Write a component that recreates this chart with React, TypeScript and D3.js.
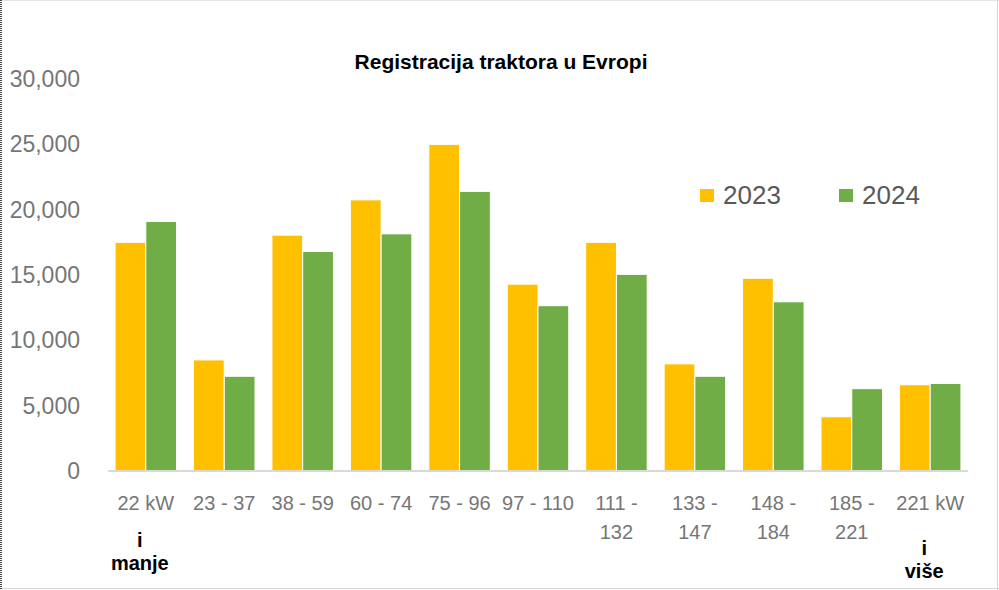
import { useEffect, useRef } from "react";
import * as d3 from "d3";

// Power classes (kW); wrapped labels are split into their lines
const categories = [
  "22 kW",
  "23 - 37",
  "38 - 59",
  "60 - 74",
  "75 - 96",
  "97 - 110",
  "111 - 132",
  "133 - 147",
  "148 - 184",
  "185 - 221",
  "221 kW",
];
const tickLines = [
  ["22 kW"],
  ["23 - 37"],
  ["38 - 59"],
  ["60 - 74"],
  ["75 - 96"],
  ["97 - 110"],
  ["111 -", "132"],
  ["133 -", "147"],
  ["148 -", "184"],
  ["185 -", "221"],
  ["221 kW"],
];
const series = ["2023", "2024"];
const values2023 = [17500, 8500, 18050, 20750, 25000, 14300, 17500, 8200, 14750, 4150, 6600];
const values2024 = [19100, 7250, 16800, 18150, 21400, 12650, 15050, 7250, 12950, 6300, 6700];
const yTicks = [0, 5000, 10000, 15000, 20000, 25000, 30000];
const notes = [
  { category: "22 kW", lines: ["i", "manje"] },
  { category: "221 kW", lines: ["i", "više"] },
];

const colors: Record<string, string> = { "2023": "#FFC000", "2024": "#70AD47" };
const W = 999;
const H = 590;
const FONT = "'Liberation Sans', Arial, sans-serif";

export default function App() {
  const svgRef = useRef<SVGSVGElement>(null);

  useEffect(() => {
    if (!svgRef.current) return;
    const svg = d3.select(svgRef.current);
    svg.selectAll("*").remove();

    const x = d3
      .scaleBand<string>()
      .domain(categories)
      .range([108, 968])
      .paddingInner(0.216)
      .paddingOuter(0.09);
    const x1 = d3.scaleBand<string>().domain(series).range([0, x.bandwidth()]);
    const y = d3.scaleLinear().domain([0, 30000]).range([471, 79]);

    // frame
    svg.append("rect").attr("width", W).attr("height", H).attr("fill", "#fff");
    svg.append("line").attr("x1", 0).attr("x2", W).attr("y1", 0.5).attr("y2", 0.5)
      .attr("stroke", "#e4e4e4");
    svg.append("line").attr("x1", 997.5).attr("x2", 997.5).attr("y1", 0).attr("y2", H)
      .attr("stroke", "#d6d6d6");
    svg.append("line").attr("x1", 0).attr("x2", W).attr("y1", 588.5).attr("y2", 588.5)
      .attr("stroke", "#d6d6d6");
    svg.append("line").attr("x1", 1).attr("x2", 1).attr("y1", 0).attr("y2", H)
      .attr("stroke", "#444").attr("stroke-width", 2).attr("stroke-dasharray", "1,1");

    // title
    svg.append("text")
      .attr("x", 501).attr("y", 69)
      .attr("text-anchor", "middle")
      .attr("font-family", FONT).attr("font-weight", "bold").attr("font-size", "21px")
      .attr("fill", "#000")
      .text("Registracija traktora u Evropi");

    // y axis labels
    const yAxis = svg.append("g")
      .attr("transform", "translate(108,0)")
      .call(d3.axisLeft(y).tickValues(yTicks).tickSize(0).tickPadding(28).tickFormat(d3.format(",")));
    yAxis.select(".domain").remove();
    yAxis.selectAll("text")
      .attr("font-family", FONT).attr("font-size", "23px").attr("fill", "#767676");

    // bars
    const values: Record<string, number[]> = { "2023": values2023, "2024": values2024 };
    series.forEach((s) => {
      svg.append("g")
        .selectAll("rect")
        .data(categories.map((c, i) => ({ c, v: values[s][i] })))
        .join("rect")
        .attr("x", (d) => (x(d.c) ?? 0) + (x1(s) ?? 0))
        .attr("y", (d) => y(d.v))
        .attr("width", x1.bandwidth())
        .attr("height", (d) => y(0) - y(d.v))
        .attr("fill", colors[s])
        .attr("stroke", "#fff")
        .attr("stroke-width", 1);
    });

    // baseline
    svg.append("line")
      .attr("x1", 108).attr("x2", 968)
      .attr("y1", y(0)).attr("y2", y(0))
      .attr("stroke", "#d9d9d9").attr("stroke-width", 2);

    // x labels
    svg.append("g")
      .selectAll("text")
      .data(categories)
      .join("text")
      .attr("x", (d) => (x(d) ?? 0) + x.bandwidth() / 2)
      .attr("y", 510)
      .attr("text-anchor", "middle")
      .attr("font-family", FONT).attr("font-size", "20px").attr("fill", "#767676")
      .each(function (_, i) {
        d3.select(this)
          .selectAll("tspan")
          .data(tickLines[i])
          .join("tspan")
          .attr("x", (x(categories[i]) ?? 0) + x.bandwidth() / 2)
          .attr("dy", (_, j) => (j === 0 ? 0 : 29))
          .text((t) => t);
      });

    // notes under first and last class
    notes.forEach((n, k) => {
      const cx = (x(n.category) ?? 0) + x.bandwidth() / 2 - 6;
      const base = k === 0 ? 547 : 555;
      svg.append("text")
        .attr("text-anchor", "middle")
        .attr("font-family", FONT).attr("font-weight", "bold").attr("font-size", "20px")
        .attr("fill", "#000")
        .selectAll("tspan")
        .data(n.lines)
        .join("tspan")
        .attr("x", cx)
        .attr("y", (_, j) => base + j * 23)
        .text((t) => t);
    });

    // legend
    const legendX = [700, 839];
    series.forEach((s, i) => {
      svg.append("rect")
        .attr("x", legendX[i]).attr("y", 189)
        .attr("width", 14).attr("height", 13)
        .attr("fill", colors[s]);
      svg.append("text")
        .attr("x", legendX[i] + 23).attr("y", 204)
        .attr("font-family", FONT).attr("font-size", "26px").attr("fill", "#595959")
        .text(s);
    });
  }, []);

  return (
    <>
      <style>{"body{margin:0}"}</style>
      <svg ref={svgRef} width={W} height={H} style={{ display: "block" }} />
    </>
  );
}
